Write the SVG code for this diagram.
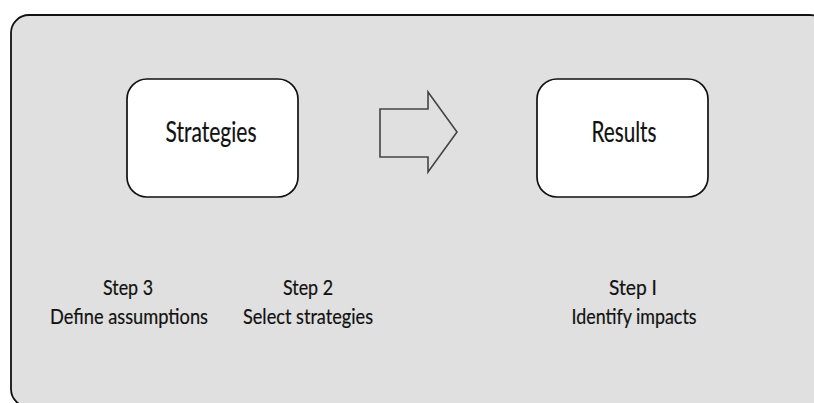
<svg xmlns="http://www.w3.org/2000/svg" width="814" height="403" viewBox="0 0 814 403">
  <style>
    .panel { fill: #e0e0e0; stroke: #111; stroke-width: 1.8; }
    .box { fill: #ffffff; stroke: #111; stroke-width: 1.7; }
    .flow { fill: none; stroke: #444; stroke-width: 1.6; stroke-linejoin: miter; }
    text { font-family: Lato, "Open Sans", "DejaVu Sans", sans-serif; fill: #111; text-anchor: middle; stroke: #111; stroke-width: 0.2; }
    .title { font-size: 29px; }
    .step { font-size: 21px; }
  </style>

  <!-- background panel -->
  <rect class="panel" x="11" y="15" width="817" height="392" rx="18" ry="18"/>

  <g id="node-strategies">
    <rect class="box" x="127" y="79" width="171" height="118" rx="20" ry="20"/>
    <text class="title" x="211" y="142" textLength="91" lengthAdjust="spacingAndGlyphs">Strategies</text>
  </g>

  <g id="node-results">
    <rect class="box" x="537" y="79" width="171" height="118" rx="20" ry="20"/>
    <text class="title" x="624" y="142" textLength="65" lengthAdjust="spacingAndGlyphs">Results</text>
  </g>

  <g id="connectors">
    <polygon class="flow" points="380,109 428,109 428,92 457,132 428,172 428,157 380,157"/>
  </g>

  <g id="label-step3">
    <text class="step" x="128" y="295" textLength="50" lengthAdjust="spacingAndGlyphs">Step 3</text>
    <text class="step" x="129" y="324" textLength="158" lengthAdjust="spacingAndGlyphs">Define assumptions</text>
  </g>

  <g id="label-step2">
    <text class="step" x="308" y="295" textLength="50" lengthAdjust="spacingAndGlyphs">Step 2</text>
    <text class="step" x="308" y="324" textLength="130" lengthAdjust="spacingAndGlyphs">Select strategies</text>
  </g>

  <g id="label-step1">
    <text class="step" x="633" y="295" textLength="48" lengthAdjust="spacingAndGlyphs">Step I</text>
    <text class="step" x="634" y="324" textLength="125" lengthAdjust="spacingAndGlyphs">Identify impacts</text>
  </g>
</svg>
